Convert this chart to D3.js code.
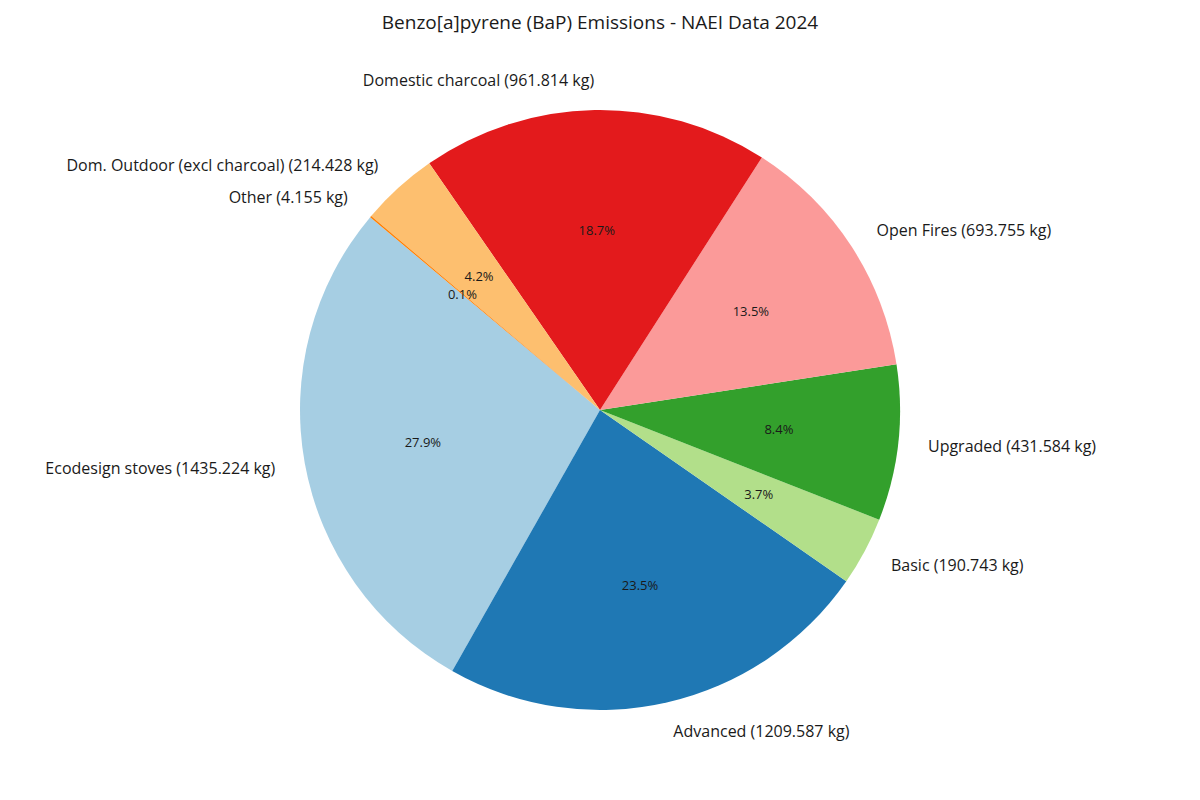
<!DOCTYPE html>
<html>
<head>
<meta charset="utf-8">
<script src="https://cdn.jsdelivr.net/npm/d3@7"></script>
<style>
  body { margin: 0; background: #fff; }
  text { font-family: "Open Sans", "Lato", sans-serif; fill: #1a1a1a; }
</style>
</head>
<body>
<div id="chart"></div>
<script>
var categories = ["Ecodesign stoves", "Advanced", "Basic", "Upgraded", "Open Fires",
                  "Domestic charcoal", "Dom. Outdoor (excl charcoal)", "Other"];
var values = [1435.224, 1209.587, 190.743, 431.584, 693.755, 961.814, 214.428, 4.155];
var colors = ["#a6cee3", "#1f78b4", "#b2df8a", "#33a02c", "#fb9a99", "#e31a1c", "#fdbf6f", "#ff7f00"];
var title = "Benzo[a]pyrene (BaP) Emissions - NAEI Data 2024";

var width = 1200, height = 800;
var cx = 600, cy = 410, r = 300;
var startDeg = 140; // matplotlib style start angle, counter-clockwise

var svg = d3.select("#chart")
    .append("svg")
    .attr("width", width)
    .attr("height", height);

svg.append("text")
    .attr("x", cx)
    .attr("y", 29)
    .attr("text-anchor", "middle")
    .style("font-size", "19px")
    .text(title);

var total = d3.sum(values);

// d3 angles run clockwise from 12 o'clock; convert from matplotlib's ccw from 3 o'clock
var toD3 = function(deg) { return (90 - deg) * Math.PI / 180; };

var pie = d3.pie()
    .sort(null)
    .value(function(d) { return d; })
    .startAngle(toD3(startDeg))
    .endAngle(toD3(startDeg) - 2 * Math.PI);

var arc = d3.arc().innerRadius(0).outerRadius(r);
var arcs = pie(values);

var g = svg.append("g")
    .attr("transform", "translate(" + cx + "," + cy + ")");

g.selectAll("path")
    .data(arcs)
    .enter()
    .append("path")
    .attr("d", arc)
    .style("fill", function(d, i) { return colors[i]; });

function midPoint(d, k) {
    var a = (d.startAngle + d.endAngle) / 2;
    return [Math.sin(a) * r * k, -Math.cos(a) * r * k];
}

g.selectAll(".lbl")
    .data(arcs)
    .enter()
    .append("text")
    .attr("class", "lbl")
    .attr("x", function(d) { return midPoint(d, 1.1)[0]; })
    .attr("y", function(d) { return midPoint(d, 1.1)[1]; })
    .attr("dy", "0.35em")
    .attr("text-anchor", function(d) { return midPoint(d, 1.1)[0] > 0 ? "start" : "end"; })
    .style("font-size", "16px")
    .text(function(d, i) { return categories[i] + " (" + values[i].toFixed(3) + " kg)"; });

g.selectAll(".pct")
    .data(arcs)
    .enter()
    .append("text")
    .attr("class", "pct")
    .attr("x", function(d) { return midPoint(d, 0.6)[0]; })
    .attr("y", function(d) { return midPoint(d, 0.6)[1]; })
    .attr("dy", "0.35em")
    .attr("text-anchor", "middle")
    .style("font-size", "13px")
    .text(function(d) { return (d.value / total * 100).toFixed(1) + "%"; });
</script>
</body>
</html>
